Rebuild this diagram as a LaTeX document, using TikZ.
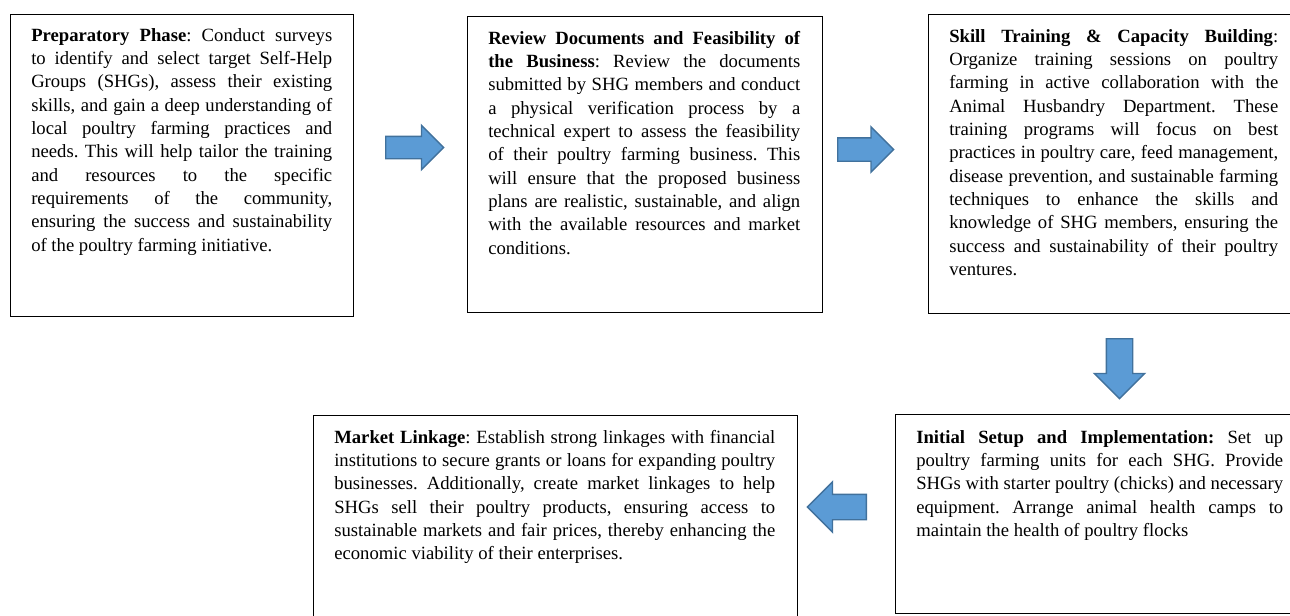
\documentclass[tikz,border=0pt]{standalone}
\usepackage{fontspec}
\setmainfont{Liberation Serif}
\usetikzlibrary{shapes.arrows,calc}
\definecolor{arrowfill}{HTML}{5B9BD5}
\definecolor{arrowline}{HTML}{41719C}
\hyphenpenalty=10000
\exhyphenpenalty=10000
\tolerance=9999
\hbadness=10000
\frenchspacing
\begin{document}
\begin{tikzpicture}[x=0.75pt,y=-0.75pt,
  stagebox/.style={draw=black,line width=1.1pt,rectangle,inner sep=0pt,anchor=north west},
  stagetext/.style={inner sep=0pt,anchor=north west,align=justify,
    font=\fontsize{14pt}{17.5pt}\selectfont},
  blockarrow/.style={single arrow,draw=arrowline,fill=arrowfill,line width=1pt,
    inner xsep=0pt,minimum width=0pt,single arrow tip angle=90,anchor=tail},
]
\clip (0,0) rectangle (1290,615);
% boxes
\node[stagebox,minimum width=257.25pt,minimum height=226.5pt] (b1) at (10,14) {};
\node[stagebox,minimum width=266.25pt,minimum height=222pt] (b2) at (467,16) {};
\node[stagebox,minimum width=279pt,minimum height=224.25pt] (b3) at (928,14) {};
\node[stagebox,minimum width=303.75pt,minimum height=149.25pt] (b5) at (895,414) {};
\node[stagebox,minimum width=363pt,minimum height=161.25pt] (b4) at (313,415) {};
% texts
\node[stagetext,text width=225.75pt] (t1) at ($(b1.north west)+(21,11)$) {\rule{0pt}{12pt}\textbf{Preparatory Phase}: Conduct surveys\linebreak
to identify and select target Self-Help\linebreak
Groups (SHGs), assess their existing\linebreak
skills, and gain a deep understanding of\linebreak
local poultry farming practices and\linebreak
needs. This will help tailor the training\linebreak
and resources to the specific\linebreak
requirements of the community,\linebreak
ensuring the success and sustainability\linebreak
of the poultry farming initiative.};
\node[stagetext,text width=234pt] (t2) at ($(b2.north west)+(21,12)$) {\rule{0pt}{12pt}\textbf{Review Documents and Feasibility of}\linebreak
\textbf{the Business}: Review the documents\linebreak
submitted by SHG members and conduct\linebreak
a physical verification process by a\linebreak
technical expert to assess the feasibility\linebreak
of their poultry farming business. This\linebreak
will ensure that the proposed business\linebreak
plans are realistic, sustainable, and align\linebreak
with the available resources and market\linebreak
conditions.};
\node[stagetext,text width=246.75pt] (t3) at ($(b3.north west)+(21,12)$) {\rule{0pt}{12pt}\textbf{Skill Training \& Capacity Building}:\linebreak
Organize training sessions on poultry\linebreak
farming in active collaboration with the\linebreak
Animal Husbandry Department. These\linebreak
training programs will focus on best\linebreak
practices in poultry care, feed management,\linebreak
disease prevention, and sustainable farming\linebreak
techniques to enhance the skills and\linebreak
knowledge of SHG members, ensuring the\linebreak
success and sustainability of their poultry\linebreak
ventures.};
\node[stagetext,text width=275.25pt] (t5) at ($(b5.north west)+(21,13)$) {\rule{0pt}{12pt}\textbf{Initial Setup and Implementation:} Set up\linebreak
poultry farming units for each SHG. Provide\linebreak
SHGs with starter poultry (chicks) and necessary\linebreak
equipment. Arrange animal health camps to\linebreak
maintain the health of poultry flocks};
\node[stagetext,text width=330.75pt] (t4) at ($(b4.north west)+(21,12)$) {\rule{0pt}{12pt}\textbf{Market Linkage}: Establish strong linkages with financial\linebreak
institutions to secure grants or loans for expanding poultry\linebreak
businesses. Additionally, create market linkages to help\linebreak
SHGs sell their poultry products, ensuring access to\linebreak
sustainable markets and fair prices, thereby enhancing the\linebreak
economic viability of their enterprises.};
% block arrows
\node[blockarrow,minimum height=43.5pt,inner ysep=7.875pt,single arrow head extend=8.25pt] (a1) at (385,147.5) {};
\node[blockarrow,minimum height=42pt,inner ysep=8.25pt,single arrow head extend=8.25pt] (a2) at (837,149.5) {};
\node[blockarrow,rotate=-90,minimum height=45pt,inner ysep=9.375pt,single arrow head extend=9pt] (a3) at (1119.5,338) {};
\node[blockarrow,rotate=180,minimum height=44.25pt,inner ysep=9pt,single arrow head extend=9.375pt] (a4) at (867,507) {};
\end{tikzpicture}
\end{document}
